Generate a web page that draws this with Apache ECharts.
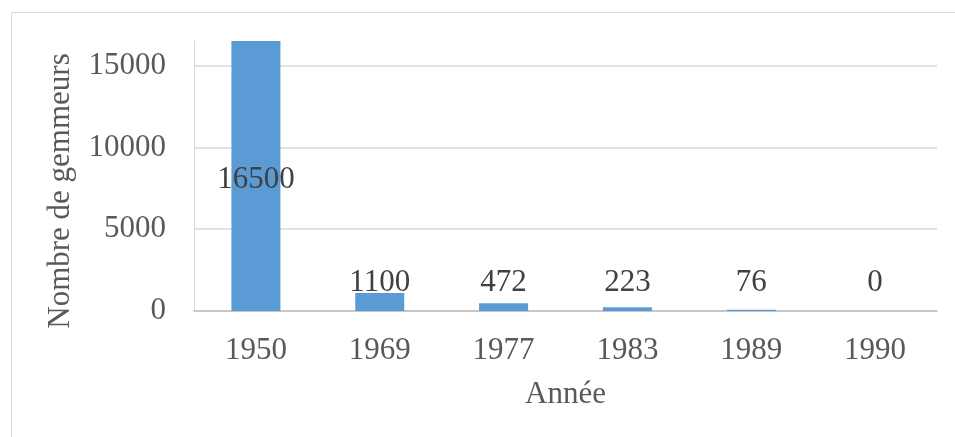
<!DOCTYPE html>
<html>
<head>
<meta charset="utf-8">
<script src="https://cdn.jsdelivr.net/npm/echarts@6/dist/echarts.min.js"></script>
<style>
  html, body { margin: 0; padding: 0; background: #fff; }
  #main { width: 955px; height: 437px; }
</style>
</head>
<body>
<div id="main"></div>
<script>
// données
var annees = ['1950', '1969', '1977', '1983', '1989', '1990'];
var gemmeurs = [16500, 1100, 472, 223, 76, 0];
var yTicks = [0, 5000, 10000, 15000];

var police = '"Liberation Serif", "Times New Roman", serif';
var taille = 31;

var myChart = echarts.init(document.getElementById('main'));

var barData = gemmeurs.map(function (v, i) {
    // la première barre porte son étiquette à l'intérieur
    if (i === 0) {
        return { value: v, label: { position: 'inside', offset: [0, 4] } };
    }
    return v;
});

option = {
    animation: false,
    backgroundColor: '#fff',
    graphic: [
        {
            type: 'rect',
            left: 9, top: 10,
            shape: { width: 960, height: 440 },
            style: { fill: 'none', stroke: '#d9d9d9', lineWidth: 1 },
            silent: true
        }
    ],
    grid: {
        left: 194,
        right: 18,
        top: 41,
        bottom: 126
    },
    xAxis: {
        type: 'category',
        data: annees,
        name: 'Année',
        nameLocation: 'middle',
        nameGap: 68,
        nameTextStyle: { fontFamily: police, fontSize: taille, color: '#595959' },
        axisLine: { lineStyle: { color: '#bfbfbf', width: 1.5 } },
        axisTick: { show: false },
        axisLabel: { fontFamily: police, fontSize: taille, color: '#595959', margin: 24 }
    },
    yAxis: {
        type: 'value',
        min: 0,
        max: 16500,
        interval: 5000,
        name: 'Nombre de gemmeurs',
        nameLocation: 'middle',
        nameGap: 118,
        nameTextStyle: { fontFamily: police, fontSize: taille, color: '#595959', padding: [0, 30, 0, 0] },
        axisLine: { show: true, lineStyle: { color: '#d9d9d9' } },
        axisTick: { show: false },
        axisLabel: {
            fontFamily: police, fontSize: taille, color: '#595959', margin: 28,
            showMaxLabel: false,
            formatter: function (v) {
                return yTicks.indexOf(v) >= 0 ? String(v) : '';
            }
        },
        splitLine: { showMaxLine: false, lineStyle: { color: '#d9d9d9', width: 1.5 } }
    },
    series: [
        {
            type: 'bar',
            data: barData,
            barWidth: 49,
            itemStyle: { color: '#5b9bd5' },
            label: {
                show: true,
                position: 'insideBottom',
                distance: 13,
                fontFamily: police,
                fontSize: taille,
                color: '#404040'
            }
        }
    ]
};

myChart.setOption(option);
</script>
</body>
</html>
